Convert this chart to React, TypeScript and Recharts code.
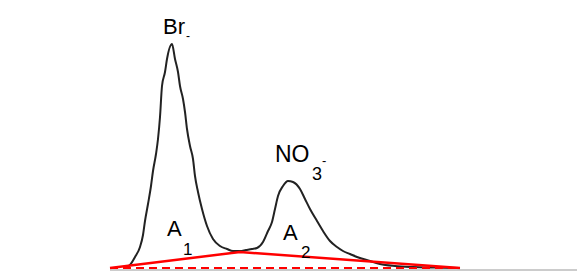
import { ComposedChart, Line, XAxis, YAxis } from "recharts";

// retention time (arbitrary units) and detector signal
const traceTime = [
  15, 20, 25, 30, 33, 35, 38, 41, 43, 46, 48, 50, 52, 55, 57, 62, 65, 68, 70, 73, 75, 77,
  80, 83, 85, 88, 92, 97, 103, 110, 117, 123, 130, 136, 142, 147, 153, 158, 162, 165, 168,
  173, 178, 183, 190, 195, 200, 207, 213, 220, 227, 233, 240, 247, 260, 270, 285, 303, 325, 350,
];
const traceSignal = [
  0, 3, 11, 21, 33, 47, 64, 82, 97, 114, 129, 151, 182, 196, 209, 224, 209, 196, 182, 169,
  156, 139, 122, 109, 92, 76, 59, 42, 29, 22, 19, 17, 17, 18, 19, 20, 26, 37, 46, 59, 72,
  82, 87, 86, 79, 69, 59, 47, 37, 27, 21, 17, 14, 11, 7, 4, 2, 1, 0.5, 0,
];

// valley-to-valley baseline (solid) and flat baseline (dashed)
const baseTime = [0, 130, 350];
const baseSignal = [0, 16, 0];
const flatTime = [0, 350];
const flatSignal = [0, 0];

const zip = (t: number[], s: number[]) => t.map((x, i) => ({ t: x, s: s[i] }));

const trace = zip(traceTime, traceSignal);
const baseline = zip(baseTime, baseSignal);
const flat = zip(flatTime, flatSignal);

const font = "'Liberation Sans', Arial, sans-serif";

export default function App() {
  return (
    <div style={{ position: "absolute", left: 0, top: 0, width: 577, height: 271, background: "#fff" }}>
      <ComposedChart width={577} height={271} margin={{ top: 0, right: 0, left: 110, bottom: 0 }}>
        <XAxis
          type="number"
          dataKey="t"
          domain={[0, 467]}
          height={1}
          tick={false}
          tickLine={false}
          axisLine={{ stroke: "#999", strokeWidth: 1 }}
        />
        <YAxis type="number" domain={[-2, 268]} hide />
        <Line
          data={trace}
          dataKey="s"
          type="monotone"
          stroke="#222"
          strokeWidth={2}
          dot={false}
          isAnimationActive={false}
        />
        <Line
          data={flat}
          dataKey="s"
          type="linear"
          stroke="#ff0000"
          strokeWidth={2}
          strokeDasharray="8 5"
          dot={false}
          isAnimationActive={false}
        />
        <Line
          data={baseline}
          dataKey="s"
          type="linear"
          stroke="#ff0000"
          strokeWidth={2.5}
          dot={false}
          isAnimationActive={false}
        />
      </ComposedChart>
      <svg
        width={577}
        height={271}
        style={{ position: "absolute", left: 0, top: 0, pointerEvents: "none" }}
        fontFamily={font}
        fill="#000"
      >
        <text x={163} y={34} fontSize={22}>Br</text>
        <text x={186} y={40} fontSize={12}>-</text>
        <text x={275} y={162} fontSize={23}>NO</text>
        <text x={312} y={180} fontSize={18}>3</text>
        <text x={322} y={165} fontSize={13}>-</text>
        <text x={167} y={236} fontSize={22}>A</text>
        <text x={183} y={255} fontSize={17}>1</text>
        <text x={283} y={240} fontSize={22}>A</text>
        <text x={301} y={258} fontSize={17}>2</text>
      </svg>
    </div>
  );
}
